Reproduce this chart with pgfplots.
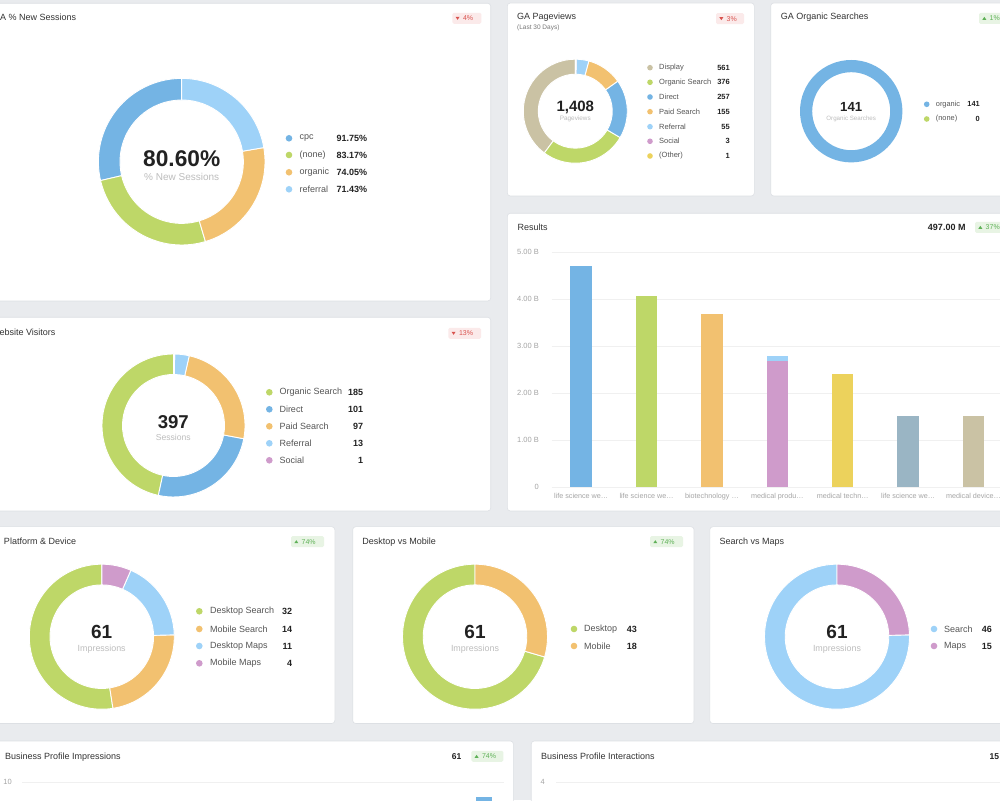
\documentclass[border=0pt]{standalone}
\usepackage{fontspec}
\setmainfont{Liberation Sans}
\usepackage{pgfplots}
\usepackage{pgfplotstable}
\pgfplotsset{compat=1.18}
\pgfplotsset{/pgf/number format/assume math mode=true}

\definecolor{cBlue}{HTML}{74B4E4}
\definecolor{cGreen}{HTML}{BED768}
\definecolor{cOrange}{HTML}{F2C170}
\definecolor{cLight}{HTML}{9ED2F8}
\definecolor{cPink}{HTML}{CF9BCB}
\definecolor{cTan}{HTML}{CAC2A4}
\definecolor{cYellow}{HTML}{ECD25C}
\definecolor{cSlate}{HTML}{9AB5C4}
\definecolor{bg}{HTML}{E9EBEE}
\definecolor{edge}{HTML}{DDE0E4}
\definecolor{ttl}{HTML}{333333}
\definecolor{lbl}{HTML}{555555}
\definecolor{val}{HTML}{222222}
\definecolor{sub}{HTML}{BDBDBD}
\definecolor{tick}{HTML}{A5A5A5}
\definecolor{gridc}{HTML}{F0F0F0}
\definecolor{downtxt}{HTML}{D9534F}
\definecolor{downbg}{HTML}{FBEAEA}
\definecolor{uptxt}{HTML}{5FB157}
\definecolor{upbg}{HTML}{E8F4E4}

\newcommand\fs[1]{\fontsize{#1}{#1}\selectfont}

% results per keyword, in billions; one column per bar colour
\pgfplotstableread{
x blue green orange pink light yellow slate tan
0 4.70 0    0    0    0    0    0    0
1 0    4.06 0    0    0    0    0    0
2 0    0    3.69 0    0    0    0    0
3 0    0    0    2.69 0.10 0    0    0
4 0    0    0    0    0    2.40 0    0
5 0    0    0    0    0    0    1.52 0
6 0    0    0    0    0    0    0    1.50
}\results

% donut: centre x, centre y (from top), outer r, inner r, total, value/colour list, border
\newcommand\donut[7]{%
  \begin{axis}[at={(#1pt,{(800-#2)*1pt})}, anchor=center,
    width={2*#3pt}, height={2*#3pt}, scale only axis, hide axis,
    xmin=-1, xmax=1, ymin=-1, ymax=1, clip=false]
    \pgfplotsextra{%
      \def\ang{90}%
      \begin{scope}[shift={(axis cs:0,0)}]
      \foreach \v/\col in {#6}{%
        \pgfmathsetmacro\e{\ang+\v/#5*360}%
        \fill[\col, #7, line width=0.9pt] (\ang:#3pt)
          arc[start angle=\ang, end angle=\e, radius=#3pt] -- (\e:#4pt)
          arc[start angle=\e, end angle=\ang, radius=#4pt] -- cycle;
        \xdef\ang{\e}%
      }
      \end{scope}}
  \end{axis}}

% legend row: dot x, y, colour, text x, label, value x, value, font size, dot radius
\newcommand\leg[9]{%
  \fill[#3] (#1,#2) circle[radius=#9];
  \node[anchor=west, inner sep=0, text=lbl, font=\fs{#8}] at (#4,#2) {#5};
  \node[anchor=east, inner sep=0, text=val, font=\fs{#8}\bfseries] at (#6,#2) {#7};}

\newcommand\ttl[3]{\node[anchor=west, inner sep=0, text=ttl, font=\fs{9}] at (#1,#2) {#3};}

\newcommand\bdown[4]{%
  \fill[downbg, rounded corners=1.5] (#1,#2-5.5) rectangle (#1+#3,#2+5.5);
  \fill[downtxt] (#1+3.3,#2-1.5) -- (#1+7.3,#2-1.5) -- (#1+5.3,#2+1.5) -- cycle;
  \node[anchor=west, inner sep=0, text=downtxt, font=\fs{7}] at (#1+10.5,#2) {#4};}
\newcommand\bup[4]{%
  \fill[upbg, rounded corners=1.5] (#1,#2-5.5) rectangle (#1+#3,#2+5.5);
  \fill[uptxt] (#1+3.3,#2+1.5) -- (#1+7.3,#2+1.5) -- (#1+5.3,#2-1.5) -- cycle;
  \node[anchor=west, inner sep=0, text=uptxt, font=\fs{7}] at (#1+10.5,#2) {#4};}

\begin{document}
\begin{tikzpicture}[x=1pt, y=1pt]
\useasboundingbox (0pt,0pt) rectangle (1000pt,800pt);
\clip (0pt,0pt) rectangle (1000pt,800pt);
\fill[bg] (0pt,0pt) rectangle (1000pt,800pt);

\begin{scope}[shift={(0pt,800pt)}, yscale=-1]
  \tikzset{panel/.style={fill=white, draw=edge, line width=0.6pt, rounded corners=3}}
  \path[panel] (-10,3.3) rectangle (490.7,301);
  \path[panel] (507.3,3) rectangle (754.3,196);
  \path[panel] (770.7,3) rectangle (1010,196);
  \path[panel] (507.3,213.3) rectangle (1010,511);
  \path[panel] (-10,317.3) rectangle (490.7,511);
  \path[panel] (-10,526.7) rectangle (334.8,723.5);
  \path[panel] (352.7,526.7) rectangle (694,723.5);
  \path[panel] (709.8,526.7) rectangle (1010,723.5);
  \path[panel] (-10,741) rectangle (513.4,815);
  \path[panel] (531.2,741) rectangle (1010,815);
\end{scope}

% donuts
\donut{181.7}{161.7}{83.3}{61.7}{320.40}{91.75/cBlue,83.17/cGreen,74.05/cOrange,71.43/cLight}{draw=white}
\donut{575.3}{111.2}{52}{37}{1408}{561/cTan,376/cGreen,257/cBlue,155/cOrange,55/cLight,3/cPink,1/cYellow}{draw=white}
\donut{851.2}{111.2}{51.2}{39}{141}{141/cBlue}{draw=none}
\donut{173.5}{425.5}{71.5}{51}{397}{185/cGreen,101/cBlue,97/cOrange,13/cLight,1/cPink}{draw=white}
\donut{101.8}{636.7}{72.5}{51.8}{61}{32/cGreen,14/cOrange,11/cLight,4/cPink}{draw=white}
\donut{475}{636.7}{72.5}{51.8}{61}{43/cGreen,18/cOrange}{draw=white}
\donut{837}{636.7}{72.5}{51.8}{61}{46/cLight,15/cPink}{draw=white}

% Results bar chart
\begin{axis}[at={(551.7pt,313pt)}, anchor=south west, scale only axis,
  width=461pt, height=235pt, xmin=-0.45, xmax=6.6, ymin=0, ymax=5,
  ybar stacked, bar width=21.3pt, axis line style={draw=none},
  major tick length=0pt, ymajorgrids, grid style={gridc, line width=0.6pt},
  ytick={0,1,2,3,4,5}, yticklabels={0,1.00 B,2.00 B,3.00 B,4.00 B,5.00 B},
  xtick={0,1,2,3,4,5,6},
  xticklabels={life science we…,life science we…,biotechnology …,medical produ…,medical techn…,life science we…,medical device…},
  tick label style={font=\fs{7.5}, text=tick, inner sep=0pt},
  xticklabel style={font=\fs{7.2}},
  yticklabel style={anchor=east, xshift=-12.7pt},
  xticklabel style={anchor=north, yshift=-6.5pt}]
  \addplot[fill=cBlue, draw=none] table[x=x, y=blue] {\results};
  \addplot[fill=cGreen, draw=none] table[x=x, y=green] {\results};
  \addplot[fill=cOrange, draw=none] table[x=x, y=orange] {\results};
  \addplot[fill=cPink, draw=none] table[x=x, y=pink] {\results};
  \addplot[fill=cLight, draw=none] table[x=x, y=light] {\results};
  \addplot[fill=cYellow, draw=none] table[x=x, y=yellow] {\results};
  \addplot[fill=cSlate, draw=none] table[x=x, y=slate] {\results};
  \addplot[fill=cTan, draw=none] table[x=x, y=tan] {\results};
\end{axis}

% Business Profile Impressions (only the top of the chart is in view)
\begin{axis}[at={(22pt,-132pt)}, anchor=south west, scale only axis,
  width=482pt, height=150pt, xmin=0, xmax=12, ymin=0, ymax=10,
  ybar, bar width=16.6pt, axis line style={draw=none}, major tick length=0pt,
  ymajorgrids, grid style={gridc, line width=0.6pt}, ytick={10},
  xtick=\empty, tick label style={font=\fs{7.5}, text=tick, inner sep=0pt},
  yticklabel style={anchor=east, xshift=-10pt}]
  \addplot[fill=cBlue, draw=none] coordinates {(11.5,9.0)};
\end{axis}

% Business Profile Interactions
\begin{axis}[at={(556pt,-132pt)}, anchor=south west, scale only axis,
  width=460pt, height=150pt, xmin=0, xmax=12, ymin=0, ymax=4,
  axis line style={draw=none}, major tick length=0pt,
  ymajorgrids, grid style={gridc, line width=0.6pt}, ytick={4},
  xtick=\empty, tick label style={font=\fs{7.5}, text=tick, inner sep=0pt},
  yticklabel style={anchor=east, xshift=-11pt}]
\end{axis}

\begin{scope}[shift={(0pt,800pt)}, yscale=-1]
  % titles and badges
  \ttl{-7}{17.3}{GA \% New Sessions}
  \bdown{452.3}{18.3}{29}{4\%}
  \ttl{517}{17.3}{GA Pageviews}
  \node[anchor=west, inner sep=0, text=lbl!80, font=\fs{6.5}] at (517,28) {(Last 30 Days)};
  \bdown{716}{18.7}{28}{3\%}
  \ttl{780.7}{17.3}{GA Organic Searches}
  \bup{979}{18.3}{30}{1\%}
  \ttl{517.3}{227.3}{Results}
  \node[anchor=east, inner sep=0, text=val, font=\fs{9}\bfseries] at (965.7,227.3) {497.00 M};
  \bup{975}{227.3}{34}{37\%}
  \ttl{-9}{332.7}{Website Visitors}
  \bdown{448.3}{333.3}{32.7}{13\%}
  \ttl{3.8}{541.7}{Platform \& Device}
  \bup{291}{541.7}{33}{74\%}
  \ttl{362.2}{541.7}{Desktop vs Mobile}
  \bup{650}{541.7}{33}{74\%}
  \ttl{719.4}{541.7}{Search vs Maps}
  \ttl{5}{756.7}{Business Profile Impressions}
  \node[anchor=east, inner sep=0, text=val, font=\fs{8.5}\bfseries] at (461.5,756.5) {61};
  \bup{471.3}{756.3}{32}{74\%}
  \ttl{540.8}{756.7}{Business Profile Interactions}
  \node[anchor=west, inner sep=0, text=val, font=\fs{8.5}\bfseries] at (989.5,756.5) {15};

  % donut centres
  \node[inner sep=0, text=val, font=\fs{22.7}\bfseries] at (181.7,158.3) {80.60\%};
  \node[inner sep=0, text=sub, font=\fs{10}] at (181.7,176.7) {\% New Sessions};
  \node[inner sep=0, text=val, font=\fs{15}\bfseries] at (575.3,107.3) {1,408};
  \node[inner sep=0, text=sub, font=\fs{6.4}] at (575.3,119.3) {Pageviews};
  \node[inner sep=0, text=val, font=\fs{13.2}\bfseries] at (851.2,107.3) {141};
  \node[inner sep=0, text=sub, font=\fs{6.2}] at (851.2,119.3) {Organic Searches};
  \node[inner sep=0, text=val, font=\fs{18.6}\bfseries] at (173.3,421.7) {397};
  \node[inner sep=0, text=sub, font=\fs{8.6}] at (173.3,437) {Sessions};
  \foreach \cx in {101.7,475,837}{
    \node[inner sep=0, text=val, font=\fs{19}\bfseries] at (\cx,632) {61};
    \node[inner sep=0, text=sub, font=\fs{8.9}] at (\cx,648.7) {Impressions};}

  % legends
  \leg{289}{138.3}{cBlue}{299.3}{cpc}{367.3}{91.75\%}{9}{3.3}
  \leg{289}{155}{cGreen}{299.3}{(none)}{367.3}{83.17\%}{9}{3.3}
  \leg{289}{172.3}{cOrange}{299.3}{organic}{367.3}{74.05\%}{9}{3.3}
  \leg{289}{189.3}{cLight}{299.3}{referral}{367.3}{71.43\%}{9}{3.3}

  \leg{650}{67.7}{cTan}{659}{Display}{730}{561}{7.5}{2.8}
  \leg{650}{82.3}{cGreen}{659}{Organic Search}{730}{376}{7.5}{2.8}
  \leg{650}{97}{cBlue}{659}{Direct}{730}{257}{7.5}{2.8}
  \leg{650}{111.7}{cOrange}{659}{Paid Search}{730}{155}{7.5}{2.8}
  \leg{650}{126.7}{cLight}{659}{Referral}{730}{55}{7.5}{2.8}
  \leg{650}{141.3}{cPink}{659}{Social}{730}{3}{7.5}{2.8}
  \leg{650}{156}{cYellow}{659}{(Other)}{730}{1}{7.5}{2.8}

  \leg{926.7}{104.3}{cBlue}{935.7}{organic}{980}{141}{7.4}{2.8}
  \leg{926.7}{119}{cGreen}{935.7}{(none)}{980}{0}{7.4}{2.8}

  \leg{269.3}{392.3}{cGreen}{279.3}{Organic Search}{363.3}{185}{9}{3.3}
  \leg{269.3}{409.3}{cBlue}{279.3}{Direct}{363.3}{101}{9}{3.3}
  \leg{269.3}{426.3}{cOrange}{279.3}{Paid Search}{363.3}{97}{9}{3.3}
  \leg{269.3}{443.3}{cLight}{279.3}{Referral}{363.3}{13}{9}{3.3}
  \leg{269.3}{460.3}{cPink}{279.3}{Social}{363.3}{1}{9}{3.3}

  \leg{199.3}{611.3}{cGreen}{210}{Desktop Search}{292.3}{32}{9}{3.3}
  \leg{199.3}{629}{cOrange}{210}{Mobile Search}{292.3}{14}{9}{3.3}
  \leg{199.3}{646}{cLight}{210}{Desktop Maps}{292.3}{11}{9}{3.3}
  \leg{199.3}{663.3}{cPink}{210}{Mobile Maps}{292.3}{4}{9}{3.3}

  \leg{574}{629}{cGreen}{584}{Desktop}{637}{43}{9}{3.3}
  \leg{574}{646}{cOrange}{584}{Mobile}{637}{18}{9}{3.3}

  \leg{934}{629}{cLight}{944}{Search}{992}{46}{9}{3.3}
  \leg{934}{646}{cPink}{944}{Maps}{992}{15}{9}{3.3}
\end{scope}
\end{tikzpicture}
\end{document}
